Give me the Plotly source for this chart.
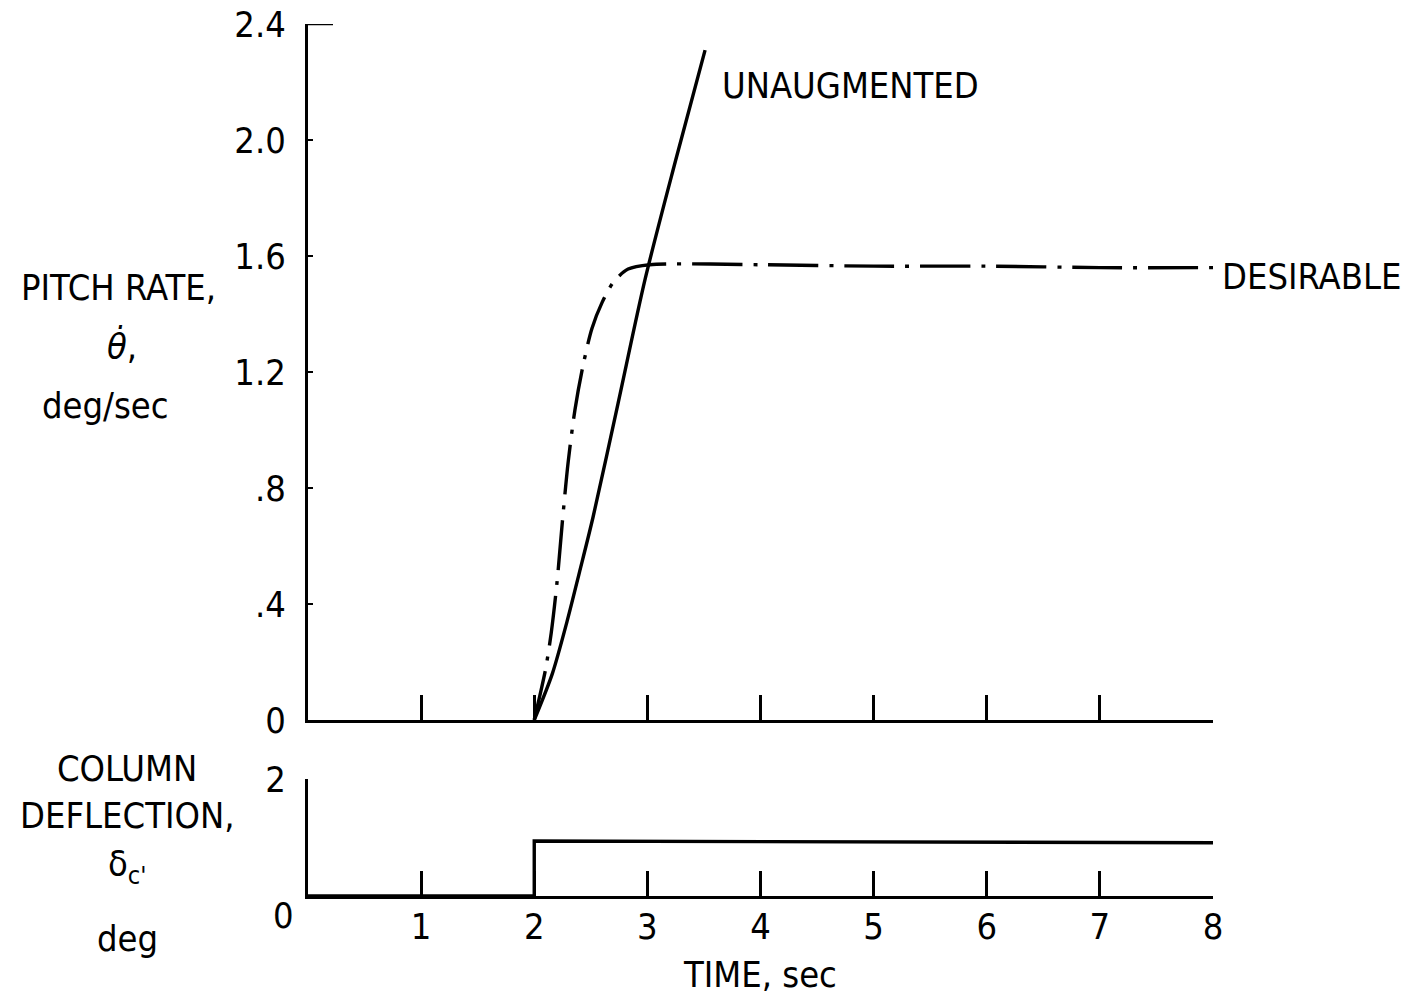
import plotly.graph_objects as go

# ---- data ----
t_unaug = [2.0, 2.16, 2.29, 2.40, 2.52, 2.74, 2.98, 3.25, 3.51]
q_unaug = [0.0, 0.16, 0.34, 0.51, 0.70, 1.09, 1.52, 1.93, 2.31]

t_des = [2.0, 2.05, 2.10, 2.15, 2.20, 2.25, 2.30, 2.36, 2.43, 2.51, 2.60, 2.70, 2.83, 3.02, 4.0, 5.0, 6.0, 7.0, 8.0]
q_des = [0.0, 0.085, 0.175, 0.30, 0.47, 0.69, 0.89, 1.07, 1.22, 1.35, 1.44, 1.51, 1.555, 1.57, 1.57, 1.565, 1.565, 1.56, 1.56]

t_col = [0.0, 2.0, 2.0, 8.0]
d_col = [0.0, 0.0, 0.94, 0.91]

q_ticks = [0, 0.4, 0.8, 1.2, 1.6, 2.0, 2.4]
q_ticktext = ["0", ".4", ".8", "1.2", "1.6", "2.0", "2.4"]
t_ticks = [1, 2, 3, 4, 5, 6, 7, 8]
t_ticktext = ["1", "2", "3", "4", "5", "6", "7", "8"]

FONT = "DejaVu Sans Condensed, Liberation Sans Narrow, sans-serif"
W, H = 1418, 997

def px(x):
    return x / W

def py(y):
    return (H - y) / H

fig = go.Figure()

fig.add_trace(go.Scatter(x=t_unaug, y=q_unaug, mode="lines",
                         line=dict(color="black", width=3.4, shape="spline", smoothing=0.8),
                         xaxis="x", yaxis="y", showlegend=False))
fig.add_trace(go.Scatter(x=t_des, y=q_des, mode="lines",
                         line=dict(color="black", width=3.4, shape="spline", smoothing=0.8,
                                   dash="50px,11px,4px,11px"),
                         xaxis="x", yaxis="y", showlegend=False))
fig.add_trace(go.Scatter(x=t_col, y=d_col, mode="lines", line=dict(color="black", width=3.4),
                         xaxis="x2", yaxis="y2", showlegend=False))

xdom = [308 / W, 1213 / W]
axis_common = dict(showline=True, linecolor="black", linewidth=3, showgrid=False, zeroline=False,
                   ticks="inside", tickcolor="black", automargin=False)

fig.update_layout(
    width=W, height=H,
    margin=dict(l=0, r=0, t=0, b=0, pad=0, autoexpand=False),
    paper_bgcolor="white", plot_bgcolor="white",
    showlegend=False,
    font=dict(family=FONT, size=36, color="black"),
    xaxis=dict(domain=xdom, range=[0, 8], anchor="y", tickvals=t_ticks, showticklabels=False,
               ticklen=25, tickwidth=2.5, **axis_common),
    yaxis=dict(domain=[py(720), py(24)], range=[0, 2.4], anchor="x", tickvals=q_ticks, ticktext=q_ticktext,
               ticklen=5, tickwidth=2, ticklabelstandoff=12, **axis_common),
    xaxis2=dict(domain=xdom, range=[0, 8], anchor="y2", tickvals=t_ticks, ticktext=t_ticktext,
                ticklen=25, tickwidth=2.5, ticklabelstandoff=-3, **axis_common),
    yaxis2=dict(domain=[py(896), py(779)], range=[0, 2], anchor="x2", tickvals=[2], ticktext=["2"],
                ticklen=30, tickwidth=2.5, ticklabelstandoff=12, **axis_common),
)

# long tick at top of the pitch-rate axis
fig.add_shape(type="line", xref="x domain", yref="y", x0=0, x1=25 / 905, y0=2.4, y1=2.4,
              line=dict(color="black", width=2.5))

def ann(text, x, y, xanchor="center", size=36):
    fig.add_annotation(text=text, x=px(x), y=py(y), xref="paper", yref="paper", showarrow=False,
                       xanchor=xanchor, yanchor="middle", font=dict(family=FONT, size=size, color="black"))

ann("UNAUGMENTED", 720, 86, xanchor="left")
ann("DESIRABLE", 1220, 276, xanchor="left")

ann("PITCH RATE,", 118, 287)
ann("<i>θ̇</i>,", 122, 345)
ann("deg/sec", 105, 405)

ann("COLUMN", 127, 768)
ann("DEFLECTION,", 127, 815)
ann("δ<sub>c'</sub>", 127, 866)
ann("deg", 127, 938)

ann("0", 283, 915)
ann("TIME, sec", 760, 974)

fig.write_html("out.html")
